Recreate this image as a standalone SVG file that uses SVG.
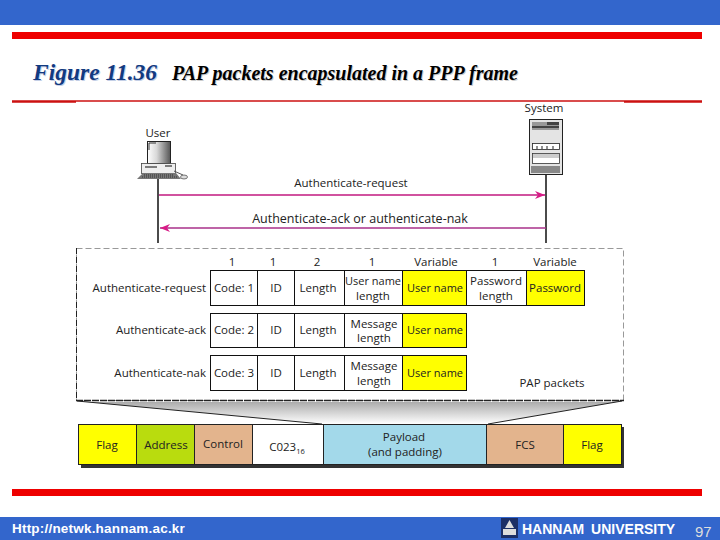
<svg xmlns="http://www.w3.org/2000/svg" width="720" height="540" viewBox="0 0 720 540">
<defs>
<linearGradient id="shade" x1="0" y1="0" x2="0" y2="1"><stop offset="0" stop-color="#a8a8a8"/><stop offset="1" stop-color="#ffffff"/></linearGradient>
<linearGradient id="screen" x1="0" y1="0" x2="1" y2="0"><stop offset="0" stop-color="#ffffff"/><stop offset=".4" stop-color="#d8d8d8"/><stop offset="1" stop-color="#555"/></linearGradient>
<marker id="ah" markerUnits="userSpaceOnUse" markerWidth="12" markerHeight="10" refX="10" refY="5" orient="auto"><path d="M0 1L10 5L0 9L3 5Z" fill="#d81b86"/></marker>
</defs>
<style>
text{font-family:"Open Sans","Noto Sans",sans-serif;fill:#222;font-size:11.5px}
.m{text-anchor:middle}
.e{text-anchor:end}
.c{stroke:#111;stroke-width:1;fill:#fff}
.y{fill:#ffff00}
.s{font-family:"Liberation Sans",sans-serif;font-size:13.500px;fill:#fff}
.f{stroke:#222;stroke-width:1}
.t1{font-family:"Liberation Serif",serif;font-size:23.500px;font-weight:bold;font-style:italic}
.t2{font-family:"Liberation Serif",serif;font-size:20px;font-weight:bold;font-style:italic}
</style>
<rect x="0" y="0" width="720" height="25" fill="#3366cc"/>
<rect x="12" y="32" width="690" height="7" fill="#ee0000"/>
<rect x="12" y="489" width="690" height="7" fill="#ee0000"/>
<rect x="0" y="517" width="720" height="23" fill="#3366cc"/>
<path d="M12 101.500H76M624 101.500H702" stroke="#cc1111" stroke-width="2.500" fill="none"/>
<path d="M76 101H624" stroke="#cc1111" stroke-width="1.500" fill="none"/>
<text x="34" y="81" class="t1" style="fill:#c4cfe6">Figure 11.36</text>
<text x="33" y="80" class="t1" style="fill:#123a80">Figure 11.36</text>
<text x="173" y="81" class="t2" style="fill:#ccc">PAP packets encapsulated in a PPP frame</text>
<text x="172" y="80" class="t2" style="fill:#000">PAP packets encapsulated in a PPP frame</text>

<g id="user">
<text x="158" y="137" class="m">User</text>
<rect x="147.500" y="141.500" width="23" height="22" fill="url(#screen)" stroke="#222"/>
<path d="M149 150V143H156" stroke="#333" fill="none"/>
<path d="M153 164H165V166H153Z" fill="#666"/>
<rect x="141.500" y="163.500" width="34" height="10" fill="#eee" stroke="#444" stroke-width=".8"/>
<path d="M145 167H157M165 166H172" stroke="#555" stroke-width="1.500" fill="none"/>
<path d="M137 179L143 173H176L181 179Z" fill="#777"/>
<path d="M144 175H174M142 177H177" stroke="#333" stroke-dasharray="1 1" fill="none"/>
<path d="M174 171L183 175" stroke="#555" fill="none"/>
<ellipse cx="184" cy="177" rx="3.500" ry="2" fill="#ddd" stroke="#444" stroke-width=".7"/>
</g>
<g id="system">
<text x="544" y="112" class="m">System</text>
<rect x="529.500" y="119.500" width="33" height="55" fill="#e4e4e4" stroke="#222"/>
<rect x="532" y="122" width="27" height="8" fill="#999"/>
<rect x="547" y="122" width="12" height="3" fill="#444"/>
<rect x="532" y="126" width="27" height="2" fill="#444"/>
<rect x="532.500" y="143.500" width="27" height="6" fill="#fff" stroke="#222" stroke-width=".8"/>
<path d="M537 146V149M542 146V149M547 146V149M553 146V149" stroke="#222" fill="none"/>
<rect x="532.500" y="153.500" width="27" height="10" fill="#fff" stroke="#333" stroke-width=".8"/>
<rect x="533" y="154" width="26" height="4" fill="#ccc"/>
<rect x="531" y="166" width="29" height="7" fill="#888"/>
</g>
<g id="connectors">
<path d="M158 179V243M546 175V243" stroke="#111" stroke-width="1.500" fill="none"/>
<path d="M159 195H545" stroke="#c2187f" stroke-width="1.500" fill="none" marker-end="url(#ah)"/>
<path d="M546 228H160" stroke="#a8308a" stroke-width="1.500" fill="none" marker-end="url(#ah)"/>
</g>
<text x="351" y="187" class="m">Authenticate-request</text>
<text x="360" y="223" class="m" style="font-size:12.500px">Authenticate-ack or authenticate-nak</text>

<path d="M90 402H610L622 401L488 424H322L77 401Z" fill="url(#shade)" stroke="none"/>
<path d="M77 401L322 424M622 401L488 424" stroke="#222" fill="none"/>
<rect x="76.500" y="248.500" width="547" height="152" fill="#fff" stroke="#999" stroke-dasharray="6 3"/>
<path d="M76.500 248V400" stroke="#222" stroke-dasharray="6 3" fill="none"/>
<path d="M76 400.500H624" stroke="#222" stroke-width="1.300" stroke-dasharray="7 1" fill="none"/>

<g id="sizes">
<text x="232" y="266" class="m">1</text><text x="273" y="266" class="m">1</text><text x="317" y="266" class="m">2</text><text x="372" y="266" class="m">1</text><text x="436" y="266" class="m">Variable</text><text x="495" y="266" class="m">1</text><text x="555" y="266" class="m">Variable</text>
</g>
<g id="authenticate-request">
<text x="206" y="292" class="e">Authenticate-request</text>
<rect class="c" x="210.500" y="270.500" width="47" height="35"/><rect class="c" x="257.500" y="270.500" width="37" height="35"/><rect class="c" x="294.500" y="270.500" width="50" height="35"/><rect class="c" x="344.500" y="270.500" width="58" height="35"/><rect class="c y" x="402.500" y="270.500" width="64" height="35"/><rect class="c" x="466.500" y="270.500" width="60" height="35"/><rect class="c y" x="526.500" y="270.500" width="58" height="35"/>
<text x="234" y="292" class="m">Code: 1</text><text x="276" y="292" class="m">ID</text><text x="318" y="292" class="m">Length</text><text x="373" y="285" class="m" style="font-size:11px">User name</text><text x="373" y="300" class="m">length</text><text x="435" y="292" class="m" style="font-size:11px">User name</text><text x="496" y="285" class="m">Password</text><text x="496" y="300" class="m">length</text><text x="555" y="292" class="m">Password</text>
</g>
<g id="authenticate-ack">
<text x="206" y="334" class="e">Authenticate-ack</text>
<rect class="c" x="210.500" y="313.500" width="47" height="34"/><rect class="c" x="257.500" y="313.500" width="37" height="34"/><rect class="c" x="294.500" y="313.500" width="50" height="34"/><rect class="c" x="344.500" y="313.500" width="58" height="34"/><rect class="c y" x="402.500" y="313.500" width="64" height="34"/>
<text x="234" y="334" class="m">Code: 2</text><text x="276" y="334" class="m">ID</text><text x="318" y="334" class="m">Length</text><text x="374" y="328" class="m">Message</text><text x="374" y="342" class="m">length</text><text x="435" y="334" class="m" style="font-size:11px">User name</text>
</g>
<g id="authenticate-nak">
<text x="206" y="377" class="e">Authenticate-nak</text>
<rect class="c" x="210.500" y="355.500" width="47" height="35"/><rect class="c" x="257.500" y="355.500" width="37" height="35"/><rect class="c" x="294.500" y="355.500" width="50" height="35"/><rect class="c" x="344.500" y="355.500" width="58" height="35"/><rect class="c y" x="402.500" y="355.500" width="64" height="35"/>
<text x="234" y="377" class="m">Code: 3</text><text x="276" y="377" class="m">ID</text><text x="318" y="377" class="m">Length</text><text x="374" y="370" class="m">Message</text><text x="374" y="385" class="m">length</text><text x="435" y="377" class="m" style="font-size:11px">User name</text>
</g>
<text x="552" y="387" class="m">PAP packets</text>

<g id="ppp-frame">
<rect x="81" y="427" width="543" height="41" fill="#333"/>
<rect class="f" x="78.500" y="424.500" width="58" height="40" fill="#ffff00"/>
<rect class="f" x="136.500" y="424.500" width="58" height="40" fill="#b9dc0e"/>
<rect class="f" x="194.500" y="424.500" width="58" height="40" fill="#e3b48d"/>
<rect class="f" x="252.500" y="424.500" width="71" height="40" fill="#fff"/>
<rect class="f" x="323.500" y="424.500" width="163" height="40" fill="#a3d9ea"/>
<rect class="f" x="486.500" y="424.500" width="77" height="40" fill="#e3b48d"/>
<rect class="f" x="563.500" y="424.500" width="58" height="40" fill="#ffff00"/>
<text x="107" y="449" class="m">Flag</text><text x="166" y="449" class="m">Address</text><text x="223" y="448" class="m">Control</text>
<text x="287" y="451" class="m">C023<tspan font-size="7.500" dy="3">16</tspan></text>
<text x="404" y="441" class="m">Payload</text><text x="405" y="456" class="m">(and padding)</text>
<text x="525" y="449" class="m">FCS</text><text x="592" y="449" class="m">Flag</text>
</g>

<text x="12" y="533" class="s" style="font-weight:bold;letter-spacing:.2px">Http://netwk.hannam.ac.kr</text>
<g id="logo">
<rect x="501" y="518" width="17" height="20" fill="#1c2f66"/>
<path d="M509.500 520L505 528H514Z M503 529H516V535H503Z" fill="#ddd"/>
</g>
<text x="522" y="534" class="s" style="font-weight:bold;font-size:14px;word-spacing:3px">HANNAM UNIVERSITY</text>
<text x="695" y="537" style="font-family:'Liberation Sans',sans-serif;font-size:15px;fill:#ddd">97</text>
</svg>
